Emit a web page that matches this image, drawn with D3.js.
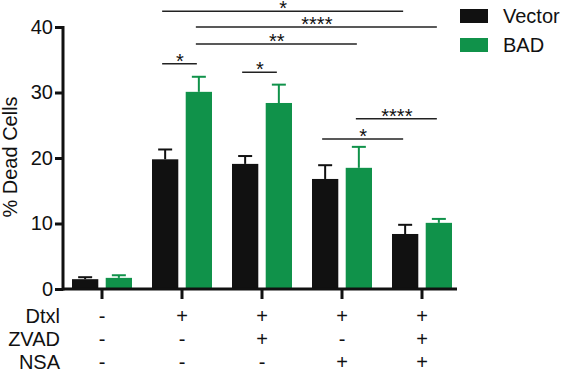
<!DOCTYPE html>
<html>
<head>
<meta charset="utf-8">
<script src="https://cdn.jsdelivr.net/npm/d3@7"></script>
<style>
  body { margin: 0; background: #fff; }
  text { font-family: "Liberation Sans", Arial, sans-serif; }
</style>
</head>
<body>
<div id="chart"></div>
<script>
// data
var groups = ["g1", "g2", "g3", "g4", "g5"];
var series = ["Vector", "BAD"];
var colors = ["#111111", "#10924a"];
var vectorMean = [1.5, 19.8, 19.1, 16.8, 8.4];
var vectorErr = [0.3, 1.5, 1.2, 2.1, 1.4];
var badMean = [1.7, 30.1, 28.4, 18.5, 10.1];
var badErr = [0.4, 2.3, 2.8, 3.2, 0.6];
var yTicks = [0, 10, 20, 30, 40];
var rowLabels = ["Dtxl", "ZVAD", "NSA"];
var treatments = [
    ["-", "+", "+", "+", "+"],
    ["-", "-", "+", "-", "+"],
    ["-", "-", "-", "+", "+"]
];
// significance brackets: [group a, series a, group b, series b, level, stars]
var sigs = [
    [1, 0, 4, 0, 42.4, "*"],
    [1, 1, 4, 1, 40.0, "****"],
    [1, 1, 3, 1, 37.4, "**"],
    [1, 0, 1, 1, 34.4, "*"],
    [2, 0, 2, 1, 33.1, "*"],
    [3, 1, 4, 1, 26.0, "****"],
    [3, 0, 4, 0, 22.9, "*"]
];

var W = 564, H = 374;
var svg = d3.select("#chart").append("svg")
    .attr("width", W)
    .attr("height", H);

var x0 = d3.scaleBand().domain(groups).range([62, 462]);
var x1 = d3.scaleBand().domain(series).range([10, 70]).paddingInner(0.22);
var y = d3.scaleLinear().domain([0, 40]).range([289, 27]);

var means = [vectorMean, badMean];
var errs = [vectorErr, badErr];

var data = [];
groups.forEach(function (g, i) {
    series.forEach(function (s, j) {
        data.push({ g: g, gi: i, s: s, si: j, v: means[j][i], e: errs[j][i] });
    });
});

function cx(gi, si) {
    return x0(groups[gi]) + x1(series[si]) + x1.bandwidth() / 2;
}

// error bars (upper only)
var eb = svg.append("g").selectAll("g").data(data).enter().append("g")
    .attr("stroke", d => colors[d.si])
    .attr("stroke-width", 2);
eb.append("line")
    .attr("x1", d => cx(d.gi, d.si)).attr("x2", d => cx(d.gi, d.si))
    .attr("y1", d => y(d.v)).attr("y2", d => y(d.v + d.e));
eb.append("line")
    .attr("x1", d => cx(d.gi, d.si) - 7).attr("x2", d => cx(d.gi, d.si) + 7)
    .attr("y1", d => y(d.v + d.e)).attr("y2", d => y(d.v + d.e));

// bars
svg.append("g").selectAll("rect").data(data).enter().append("rect")
    .attr("x", d => x0(d.g) + x1(d.s))
    .attr("width", x1.bandwidth())
    .attr("y", d => y(d.v))
    .attr("height", d => y(0) - y(d.v))
    .attr("fill", d => colors[d.si]);

// y axis
var yAxis = svg.append("g")
    .attr("transform", "translate(63,0)")
    .call(d3.axisLeft(y).tickValues(yTicks).tickSize(8).tickPadding(2));
yAxis.select(".domain").attr("stroke", "#111").attr("stroke-width", 3)
    .attr("d", "M0," + (y(40) - 1) + "V" + (y(0) + 1.5));
yAxis.selectAll(".tick line").attr("stroke", "#111").attr("stroke-width", 3);
yAxis.selectAll(".tick text").attr("font-size", 20).attr("fill", "#111")
    .attr("font-family", "Liberation Sans, Arial, sans-serif");

// x axis
var xAxis = svg.append("g")
    .attr("transform", "translate(0," + y(0) + ")")
    .call(d3.axisBottom(x0).tickSize(10).tickFormat(""));
xAxis.select(".domain").attr("stroke", "#111").attr("stroke-width", 3)
    .attr("d", "M62,0H457");
xAxis.selectAll(".tick line").attr("stroke", "#111").attr("stroke-width", 3);

// y label
svg.append("text")
    .attr("transform", "translate(17,157) rotate(-90)")
    .attr("text-anchor", "middle")
    .attr("font-size", 20)
    .attr("fill", "#111")
    .text("% Dead Cells");

// treatment rows
rowLabels.forEach(function (lab, r) {
    var by = 323 + r * 23;
    svg.append("text")
        .attr("x", 60).attr("y", by)
        .attr("text-anchor", "end")
        .attr("font-size", 20)
        .attr("fill", "#111")
        .text(lab);
    svg.append("g").selectAll("text").data(treatments[r]).enter().append("text")
        .attr("x", (d, i) => x0(groups[i]) + x0.bandwidth() / 2)
        .attr("y", by)
        .attr("text-anchor", "middle")
        .attr("font-size", 20)
        .attr("fill", "#111")
        .text(d => d);
});

// significance brackets
var sg = svg.append("g").selectAll("g").data(sigs).enter().append("g");
sg.append("line")
    .attr("x1", d => cx(d[0], d[1]) - 3)
    .attr("x2", d => cx(d[2], d[3]) - 2)
    .attr("y1", d => y(d[4])).attr("y2", d => y(d[4]))
    .attr("stroke", "#222").attr("stroke-width", 1.5);
sg.append("text")
    .attr("x", d => (cx(d[0], d[1]) + cx(d[2], d[3])) / 2 - 2)
    .attr("y", d => y(d[4]) + 4)
    .attr("text-anchor", "middle")
    .attr("font-size", 20)
    .attr("fill", "#111")
    .text(d => d[5]);

// legend
var leg = svg.append("g").selectAll("g").data(series).enter().append("g")
    .attr("transform", (d, i) => "translate(460," + (9 + i * 29) + ")");
leg.append("rect")
    .attr("width", 28).attr("height", 14)
    .attr("fill", (d, i) => colors[i]);
leg.append("text")
    .attr("x", 43).attr("y", 14)
    .attr("font-size", 20)
    .attr("fill", "#111")
    .text(d => d);
</script>
</body>
</html>
